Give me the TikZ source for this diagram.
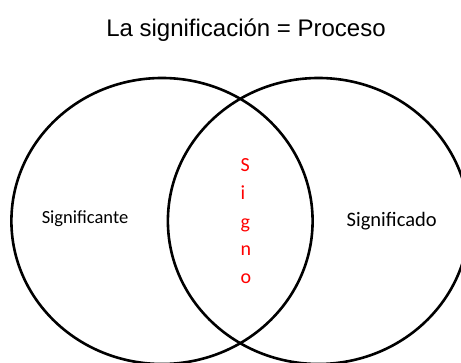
\documentclass[tikz,border=0pt]{standalone}
\usepackage{fontspec}
\setmainfont{Liberation Sans}
\newfontfamily\calfont{Carlito}
\begin{document}
\begin{tikzpicture}[x=1pt,y=1pt,
  ring/.style={draw=black,line width=2.6pt},
  lbl/.style={inner sep=0pt,anchor=base},
  sig/.style={inner sep=0pt,anchor=base west,text=red,font=\calfont\fontsize{20}{20}\selectfont}]
\useasboundingbox (0,0) rectangle (461,-363);
\draw[ring] (162,-221) ellipse [x radius=150.6, y radius=143];
\draw[ring] (318.5,-221) ellipse [x radius=150.6, y radius=143];
\node[lbl,font=\fontsize{24}{24}\selectfont] (title) at (246,-36.5) {La significación = Proceso};
\node[lbl,font=\calfont\fontsize{18.5}{18.5}\selectfont] (ante) at (85,-223.5) {Significante};
\node[lbl,font=\calfont\fontsize{20.5}{20.5}\selectfont] (ado) at (391.7,-227) {Significado};
\node[sig] (s1) at (240.5,-171.7) {S};
\node[sig] (s2) at (240.5,-199.2) {i};
\node[sig] (s3) at (240.5,-228.2) {g};
\node[sig] (s4) at (240.5,-256) {n};
\node[sig] (s5) at (240.5,-283.2) {o};
\end{tikzpicture}
\end{document}
